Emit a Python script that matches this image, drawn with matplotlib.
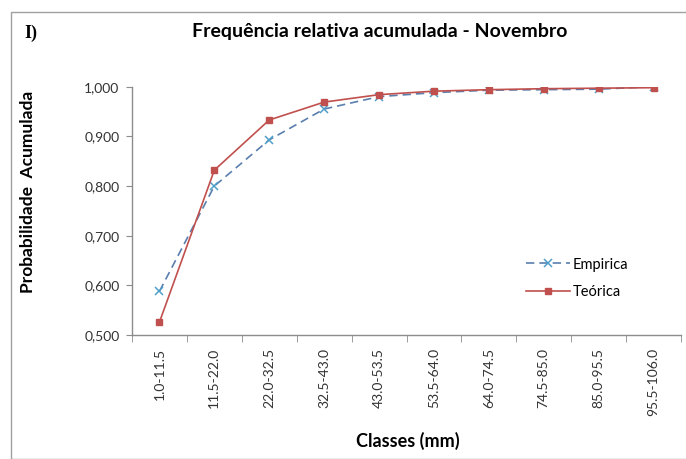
import matplotlib
matplotlib.use("Agg")
import matplotlib.pyplot as plt
from matplotlib.patches import Rectangle

# data
classes = ['1.0-11.5', '11.5-22.0', '22.0-32.5', '32.5-43.0', '43.0-53.5',
           '53.5-64.0', '64.0-74.5', '74.5-85.0', '85.0-95.5', '95.5-106.0']
empirica = [0.588, 0.800, 0.893, 0.955, 0.980, 0.988, 0.993, 0.994, 0.995, 1.000]
teorica = [0.526, 0.832, 0.933, 0.969, 0.984, 0.991, 0.994, 0.996, 0.997, 0.998]
yticks = [0.5, 0.6, 0.7, 0.8, 0.9, 1.0]
ytick_labels = ['0,500', '0,600', '0,700', '0,800', '0,900', '1,000']

W, H = 686, 459
fig = plt.figure(figsize=(W / 100, H / 100), dpi=100)
fig.patch.set_facecolor('white')

# thin grey frame round the whole chart
fig.patches.append(Rectangle((11 / W, 0.5 / H), 1.2, 1 - 12.5 / H, transform=fig.transFigure,
                             fill=False, edgecolor='#a0a0a0', linewidth=1.0))

left, right = 132 / W, 681 / W
bottom, top = 1 - 335 / H, 1 - 86.7 / H
ax = fig.add_axes([left, bottom, right - left, top - bottom])

xs = list(range(len(classes)))
ax.plot(xs, empirica, linestyle=(0, (5, 3)), color='#5a7fae', linewidth=1.2,
        marker='x', markersize=6, markeredgecolor='#4f9fc9', markeredgewidth=1.1,
        label='Empirica', zorder=3)
ax.plot(xs, teorica, linestyle='-', color='#c0504d', linewidth=1.2,
        marker='s', markersize=5, markerfacecolor='#c0504d', markeredgecolor='#c0504d',
        label='Teórica', zorder=4)

ax.set_xlim(-0.5, len(classes) - 0.5)
ax.set_ylim(0.5, 1.0)

for s in ['top', 'right']:
    ax.spines[s].set_visible(False)
for s in ['left', 'bottom']:
    ax.spines[s].set_color('#8c8c8c')
    ax.spines[s].set_linewidth(1.0)

font = 'Lato'
ax.set_yticks(yticks)
ax.set_yticklabels(ytick_labels, fontsize=10, family=font, color='#333333')
ax.tick_params(axis='y', direction='out', length=4, color='#8c8c8c', pad=5)

ax.set_xticks(xs)
ax.set_xticklabels(classes, rotation=90, fontsize=10, family=font, color='#333333', va='top')
ax.tick_params(axis='x', which='major', length=0, pad=9)
ax.set_xticks([x - 0.5 for x in range(len(classes) + 1)], minor=True)
ax.tick_params(axis='x', which='minor', direction='out', length=5, color='#8c8c8c')

fig.text(380 / W, 1 - 32 / H, 'Frequência relativa acumulada - Novembro', ha='center', va='center',
         fontsize=14, fontweight='bold', family=font)
fig.text(31 / W, 1 - 33 / H, 'I)', ha='center', va='center', fontsize=13, fontweight='bold',
         family='Liberation Serif')
fig.text(28 / W, 1 - 192 / H, 'Probabilidade  Acumulada', rotation=90, ha='center', va='center',
         fontsize=12.5, fontweight='bold', family=font)
fig.text(408 / W, 1 - 441 / H, 'Classes (mm)', ha='center', va='center',
         fontsize=13, fontweight='bold', family=font)

leg = ax.legend(loc='center left', bbox_to_anchor=((526 - 132) / 549, (335 - 278.5) / 248.3),
                frameon=False, handlelength=3, handletextpad=0.2, labelspacing=0.95,
                borderpad=0, borderaxespad=0, prop={'family': font, 'size': 10.5})

fig.savefig('out.png', dpi=100)
